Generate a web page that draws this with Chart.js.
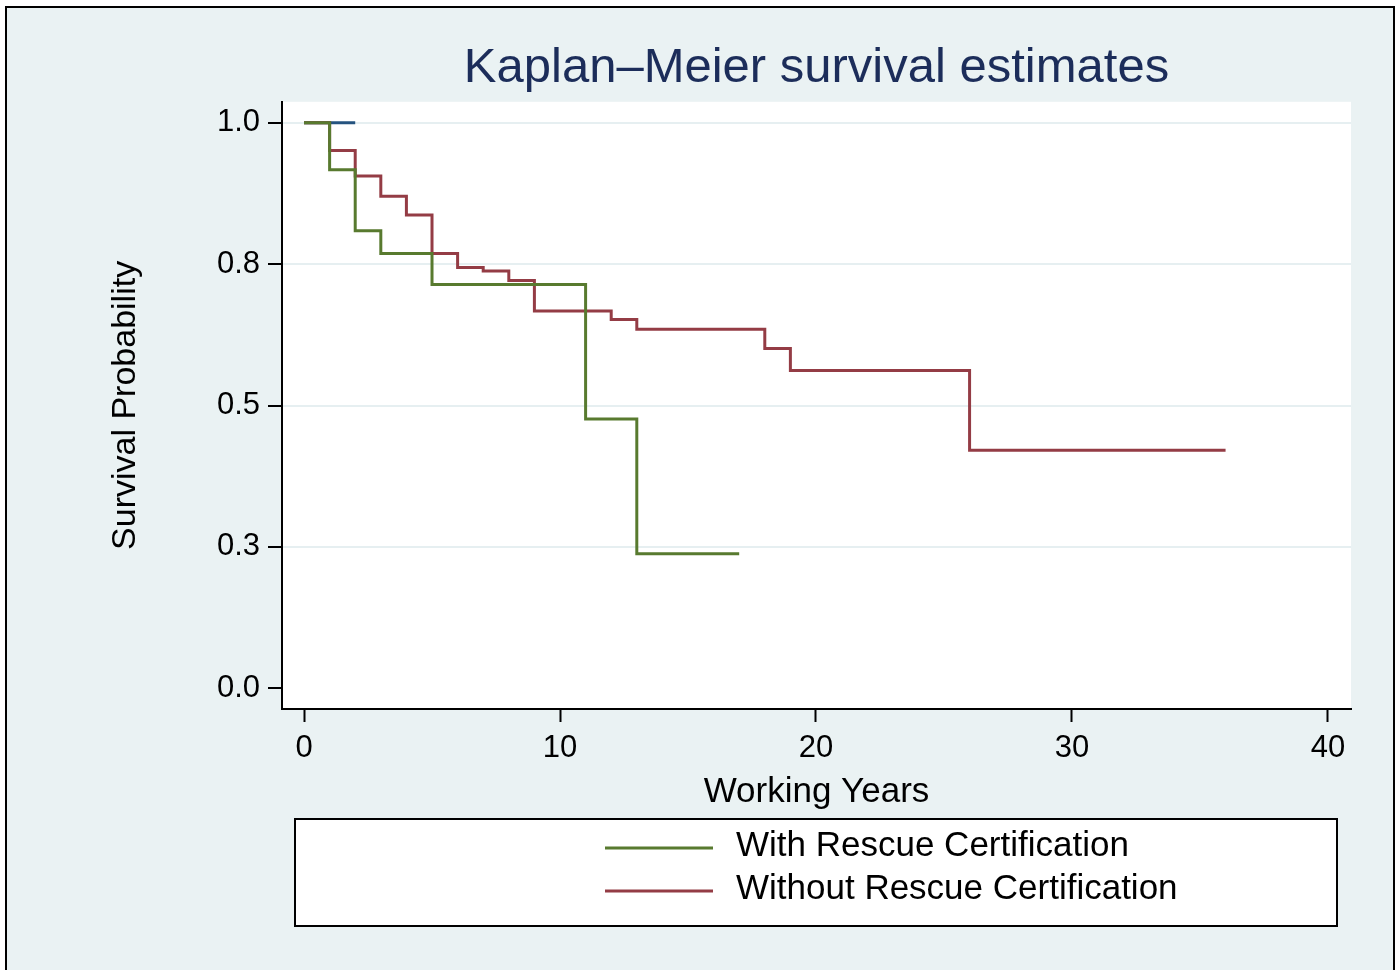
<!DOCTYPE html>
<html>
<head>
<meta charset="utf-8">
<title>Kaplan-Meier survival estimates</title>
<script src="https://cdn.jsdelivr.net/npm/chart.js@4.4.1/dist/chart.umd.min.js"></script>
<style>
  html, body { margin: 0; padding: 0; background: #fff; overflow: hidden; }
  #frame {
    position: absolute; left: 5px; top: 6px;
    width: 1386px; height: 1000px;
    border: 2px solid #000; background: #eaf2f3;
  }
  #km { position: absolute; left: 0; top: 0; }
</style>
</head>
<body>
<div id="frame"></div>
<canvas id="km" width="1397" height="970"></canvas>
<script>
// survival curves
const withTimes = [0, 1, 2, 3, 5, 11, 13, 17];
const withSurv = [1, 0.917, 0.809, 0.769, 0.714, 0.476, 0.238, 0.238];

const withoutTimes = [0, 1, 2, 3, 4, 5, 6, 7, 8, 9, 12, 13, 18, 19, 26, 36];
const withoutSurv = [1, 0.951, 0.906, 0.870, 0.837, 0.769, 0.744, 0.738, 0.721, 0.667, 0.652, 0.635, 0.601, 0.562, 0.421, 0.421];

// third (unlabelled) group, only visible at the very top
const otherTimes = [0, 2];
const otherSurv = [1, 1];

const xTickValues = [0, 10, 20, 30, 40];
const xTickLabels = ['0', '10', '20', '30', '40'];
const yTickValues = [0, 0.25, 0.5, 0.75, 1];
const yTickLabels = ['0.0', '0.3', '0.5', '0.8', '1.0'];

const FONT = "'Liberation Sans', Arial, sans-serif";

function toPoints(times, surv) {
  return times.map((t, i) => ({ x: t, y: surv[i] }));
}

// white plot region
const plotBg = {
  id: 'plotBg',
  beforeDraw(chart) {
    const a = chart.chartArea, ctx = chart.ctx;
    ctx.save();
    ctx.fillStyle = '#ffffff';
    ctx.fillRect(a.left, a.top, a.right - a.left, a.bottom - a.top);
    ctx.restore();
  }
};

// boxed legend below the x axis title
const boxLegend = {
  id: 'boxLegend',
  afterDraw(chart) {
    const ctx = chart.ctx;
    const items = chart.data.datasets.filter(d => d.label);
    ctx.save();
    ctx.fillStyle = '#ffffff';
    ctx.fillRect(295, 819, 1042, 107);
    ctx.strokeStyle = '#000000';
    ctx.lineWidth = 2;
    ctx.strokeRect(295, 819, 1042, 107);
    ctx.font = '35px ' + FONT;
    ctx.textBaseline = 'middle';
    ctx.textAlign = 'left';
    items.forEach((d, i) => {
      const y = 848 + i * 43;
      ctx.strokeStyle = d.borderColor;
      ctx.lineWidth = 3;
      ctx.beginPath();
      ctx.moveTo(605, y);
      ctx.lineTo(713, y);
      ctx.stroke();
      ctx.fillStyle = '#000000';
      ctx.fillText(d.label, 736, y - 2);
    });
    ctx.restore();
  }
};

new Chart(document.getElementById('km').getContext('2d'), {
  type: 'line',
  data: {
    datasets: [
      {
        label: 'With Rescue Certification',
        data: toPoints(withTimes, withSurv),
        borderColor: '#587a2f',
        borderWidth: 3,
        stepped: 'before',
        pointRadius: 0,
        fill: false
      },
      {
        label: 'Without Rescue Certification',
        data: toPoints(withoutTimes, withoutSurv),
        borderColor: '#943c45',
        borderWidth: 3,
        stepped: 'before',
        pointRadius: 0,
        fill: false
      },
      {
        label: '',
        data: toPoints(otherTimes, otherSurv),
        borderColor: '#25537f',
        borderWidth: 3,
        stepped: 'before',
        pointRadius: 0,
        fill: false
      }
    ]
  },
  options: {
    responsive: false,
    animation: false,
    devicePixelRatio: 1,
    layout: { padding: { left: 105, right: 46, top: 39, bottom: 157 } },
    plugins: {
      legend: { display: false },
      tooltip: { enabled: false },
      title: {
        display: true,
        text: 'Kaplan\u2013Meier survival estimates',
        fullSize: false,
        color: '#1c2d5a',
        font: { family: FONT, size: 49, weight: 'normal' },
        padding: { top: 0, bottom: 4 }
      }
    },
    scales: {
      x: {
        type: 'linear',
        min: -0.86,
        max: 40.9,
        afterFit: function(scale) { scale.height = 104; },
        afterBuildTicks: function(scale) {
          scale.ticks = xTickValues.map(v => ({ value: v }));
        },
        ticks: {
          color: '#000',
          padding: 8,
          font: { family: FONT, size: 31 },
          callback: function(value, index) { return xTickLabels[index]; }
        },
        grid: {
          drawOnChartArea: false,
          drawTicks: true,
          tickLength: 13,
          tickColor: '#000',
          tickWidth: 2
        },
        border: { display: true, color: '#000', width: 2 },
        title: {
          display: true,
          text: 'Working Years',
          color: '#000',
          font: { family: FONT, size: 35 },
          padding: 0
        }
      },
      y: {
        type: 'linear',
        min: -0.0366,
        max: 1.0371,
        afterFit: function(scale) { scale.width = 177; },
        afterBuildTicks: function(scale) {
          scale.ticks = yTickValues.map(v => ({ value: v }));
        },
        ticks: {
          color: '#000',
          padding: 8,
          font: { family: FONT, size: 31 },
          callback: function(value, index) { return yTickLabels[index]; }
        },
        grid: {
          color: function(ctx) {
            return ctx.tick && ctx.tick.value === 0 ? 'rgba(0,0,0,0)' : '#e6eff1';
          },
          lineWidth: 2,
          drawTicks: true,
          tickLength: 14,
          tickColor: '#000',
          tickWidth: 2
        },
        border: { display: true, color: '#000', width: 2 },
        title: {
          display: true,
          text: 'Survival Probability',
          color: '#000',
          font: { family: FONT, size: 34 },
          padding: 0
        }
      }
    }
  },
  plugins: [plotBg, boxLegend]
});
</script>
</body>
</html>
